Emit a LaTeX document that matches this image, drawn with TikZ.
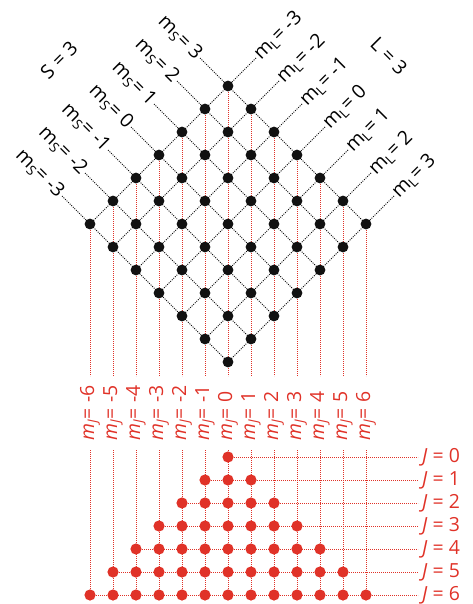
\documentclass[tikz,border=0pt]{standalone}
\usepackage{fontspec}
\setmainfont{Open Sans}
\usetikzlibrary{calc,backgrounds}
\definecolor{myred}{RGB}{224,50,40}
\definecolor{myblack}{RGB}{17,17,17}
\begin{document}
\begin{tikzpicture}[x=1bp,y=-1bp,
  bdot/.style={circle,fill=myblack,inner sep=0pt,minimum size=10.8bp},
  rdot/.style={circle,fill=myred,inner sep=0pt,minimum size=11.2bp},
  bline/.style={myblack,line width=0.9bp,dash pattern=on 1bp off 1.2bp},
  rline/.style={myred,line width=1bp,dash pattern=on 1bp off 1bp},
  lab/.style={font=\fontsize{19.5}{24}\selectfont,inner sep=1.5bp},
  rlab/.style={lab,text=myred},
]
\useasboundingbox (0,0) rectangle (473,604);

% black lattice nodes
\foreach \i in {0,...,6}{
  \foreach \j in {0,...,6}{
    \pgfmathsetmacro\xx{228+23*(\i+\j-6)}
    \pgfmathsetmacro\yy{224-23*(\i-\j)}
    \node[bdot] (b\i\j) at (\xx,\yy) {};
  }
}

% m_S lines and labels
\foreach \i in {0,...,6}{
  \pgfmathtruncatemacro\s{\i-3}
  \coordinate (es\i) at ($(b\i0)+(-28,-28)$);
  \node[lab,rotate=-45,anchor=east] (ms\i) at (es\i) {m\textsubscript{S}= \s};
}
% m_L lines and labels
\foreach \j in {0,...,6}{
  \pgfmathtruncatemacro\l{\j-3}
  \coordinate (el\j) at ($(b6\j)+(28,-28)$);
  \node[lab,rotate=45,anchor=west] (ml\j) at (el\j) {m\textsubscript{L}= \l};
}
\node[lab,rotate=45] (S) at (59,60) {S = 3};
\node[lab,rotate=-45] (L) at (389,56) {L = 3};

% m_J labels and coordinates
\foreach \c in {0,...,12}{
  \pgfmathtruncatemacro\k{\c-6}
  \pgfmathsetmacro\xx{228+23*(\c-6)}
  \coordinate (mt\c) at (\xx,376);
  \coordinate (mb\c) at (\xx,450);
  \node[rlab,rotate=90,anchor=west] (mj\c) at (\xx,442) {\textit{m}\textsubscript{\textit{J}}= \k};
}

% red dots of J rows
\foreach \J in {0,...,6}{
  \pgfmathtruncatemacro\lo{6-\J}
  \pgfmathtruncatemacro\hi{6+\J}
  \foreach \c in {\lo,...,\hi}{
    \pgfmathsetmacro\xx{228+23*(\c-6)}
    \node[rdot] (r\J-\c) at (\xx,457+23*\J) {};
  }
  \coordinate (je\J) at (418,457+23*\J);
  \node[rlab,anchor=base west,inner sep=0pt] (jl\J) at (422,462.3+23*\J) {\textit{J} = \J};
}

\begin{scope}[on background layer]
  % red vertical lines (upper part)
  \foreach \c in {0,...,12}{
    \ifnum\c<6
      \draw[rline] (b\c0.center) -- (mt\c);
    \else
      \pgfmathtruncatemacro\jj{\c-6}
      \draw[rline] (b6\jj.center) -- (mt\c);
    \fi
    \draw[rline] (mb\c) -- (r6-\c.center);
  }
  % black lattice lines
  \foreach \i in {0,...,6}{
    \draw[bline] (es\i) -- (b\i6.center);
  }
  \foreach \j in {0,...,6}{
    \draw[bline] (el\j) -- (b0\j.center);
  }
  % red horizontal lines
  \foreach \J in {0,...,6}{
    \pgfmathtruncatemacro\lo{6-\J}
    \draw[rline] (r\J-\lo.center) -- (je\J);
  }
\end{scope}
\end{tikzpicture}
\end{document}
